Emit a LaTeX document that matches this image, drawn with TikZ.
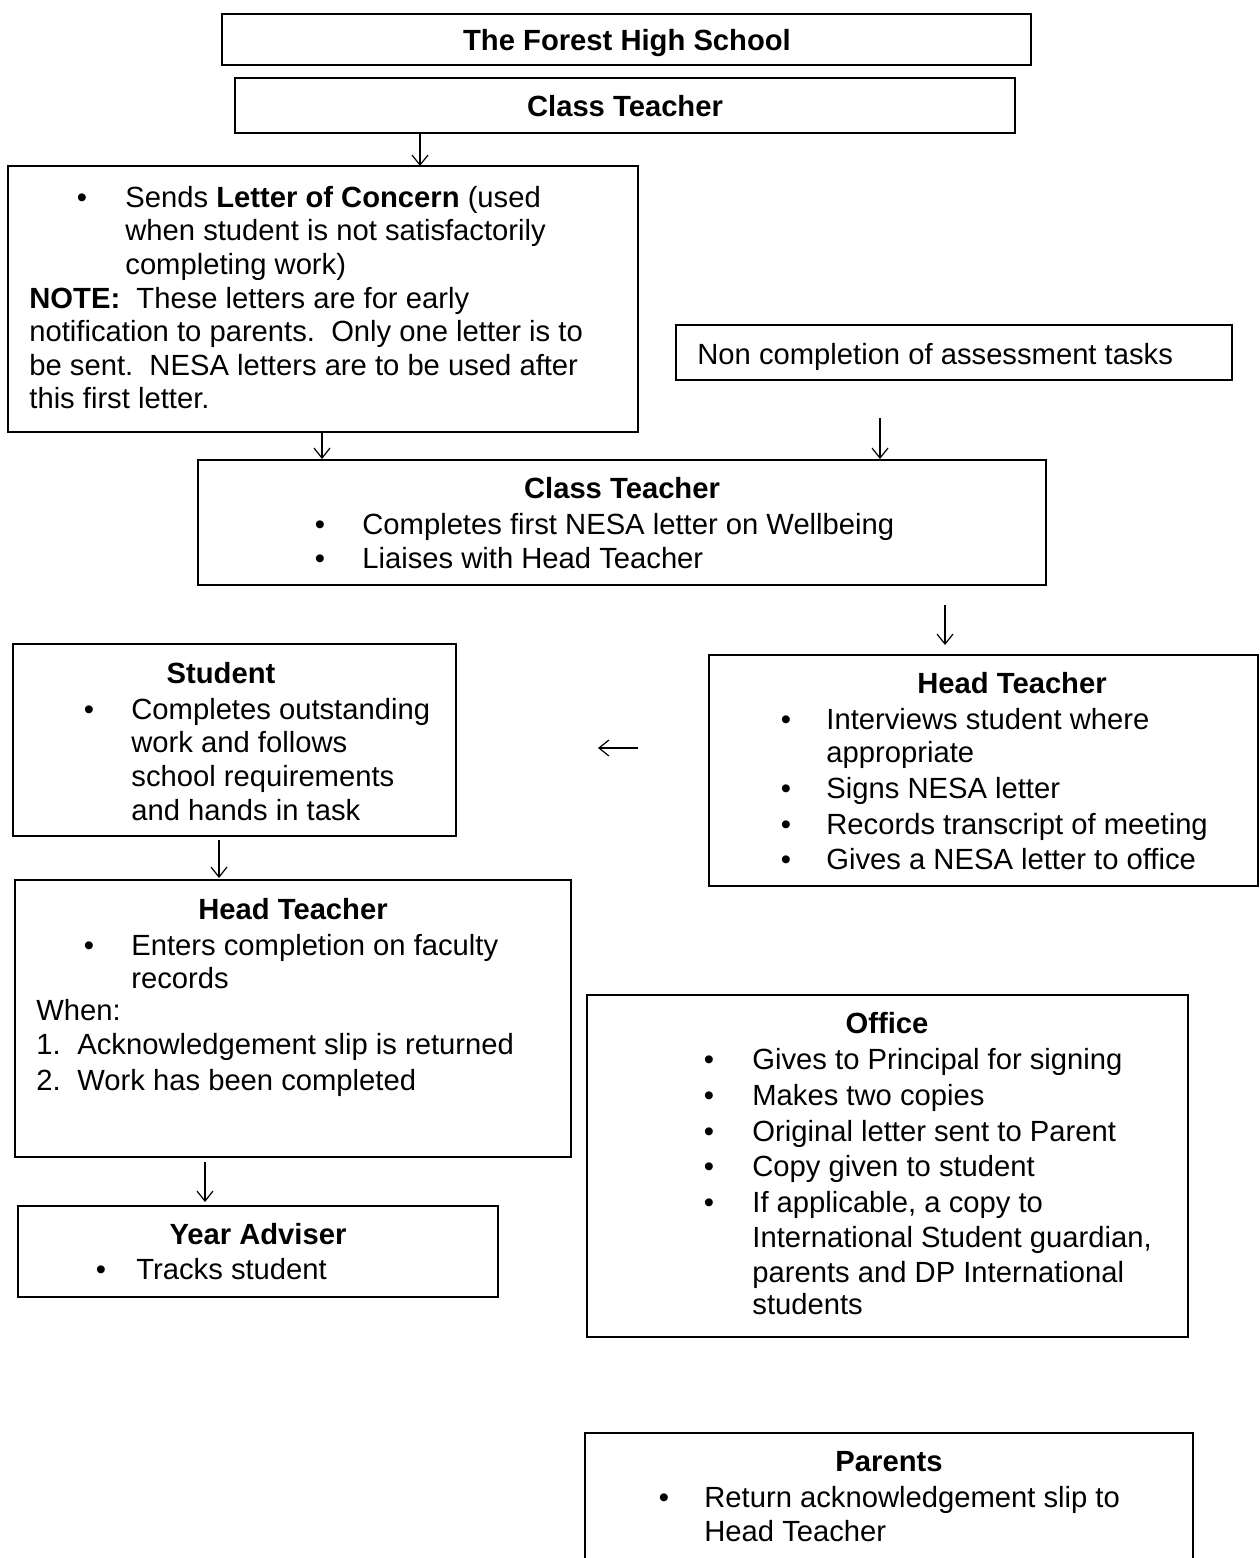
\documentclass[tikz,border=0pt]{standalone}
\usepackage{fontspec}
\setmainfont{Liberation Sans}
\usetikzlibrary{fit,arrows.meta}
\begin{document}
\begin{tikzpicture}[x=0.5pt,y=-0.5pt,
 box/.style={draw,line width=1pt,inner sep=0pt},
 txt/.style={anchor=base west,inner sep=0pt,font=\fontsize{14.6pt}{16.8pt}\selectfont},
 ttl/.style={anchor=base,inner sep=0pt,font=\fontsize{14.6pt}{16.8pt}\selectfont\bfseries},
 bul/.style={anchor=base,inner sep=0pt,font=\fontsize{14.6pt}{16.8pt}\selectfont},
 arr/.style={-{Straight Barb[length=5pt,width=8pt]},line width=0.6pt}]
\useasboundingbox (0,0) rectangle (1259,1558);

% The Forest High School
\node[box,fit={(222,14)(1031,65)}] (forest) {};
\node[ttl] (forestT) at (627,50) {The Forest High School};

% Class Teacher (top)
\node[box,fit={(235,78)(1015,133)}] (class1) {};
\node[ttl] (class1T) at (625,116) {Class Teacher};

% Letter of Concern
\node[box,fit={(8,166)(638,432)}] (letter) {};
\node[bul] (letterB) at (82,207) {•};
\node[txt] (letterL1) at (125,207) {Sends \textbf{Letter of Concern} (used};
\node[txt] (letterL2) at (125,240) {when student is not satisfactorily};
\node[txt] (letterL3) at (125,274) {completing work)};
\node[txt] (letterL4) at (29,308) {\textbf{NOTE:}\ \ These letters are for early};
\node[txt] (letterL5) at (29,341) {notification to parents.\ \ Only one letter is to};
\node[txt] (letterL6) at (29,375) {be sent.\ \ NESA letters are to be used after};
\node[txt] (letterL7) at (29,408) {this first letter.};

% Non completion
\node[box,fit={(676,325)(1232,380)}] (noncomp) {};
\node[txt] (noncompT) at (697,364) {Non completion of assessment tasks};

% Class Teacher (second)
\node[box,fit={(198,460)(1046,585)}] (class2) {};
\node[ttl] (class2T) at (622,498) {Class Teacher};
\node[bul] (class2B1) at (320,534) {•};
\node[txt] (class2L1) at (362,534) {Completes first NESA letter on Wellbeing};
\node[bul] (class2B2) at (320,568) {•};
\node[txt] (class2L2) at (362,568) {Liaises with Head Teacher};

% Student
\node[box,fit={(13,644)(456,836)}] (student) {};
\node[ttl] (studentT) at (221,683) {Student};
\node[bul] (studentB) at (89,719) {•};
\node[txt] (studentL1) at (131,719) {Completes outstanding};
\node[txt] (studentL2) at (131,752) {work and follows};
\node[txt] (studentL3) at (131,786) {school requirements};
\node[txt] (studentL4) at (131,820) {and hands in task};

% Head Teacher (right)
\node[box,fit={(709,655)(1258,886)}] (htr) {};
\node[ttl] (htrT) at (1012,693) {Head Teacher};
\node[bul] (htrB1) at (786,729) {•};
\node[txt] (htrL1) at (826,729) {Interviews student where};
\node[txt] (htrL2) at (826,762) {appropriate};
\node[bul] (htrB2) at (786,798) {•};
\node[txt] (htrL3) at (826,798) {Signs NESA letter};
\node[bul] (htrB3) at (786,834) {•};
\node[txt] (htrL4) at (826,834) {Records transcript of meeting};
\node[bul] (htrB4) at (786,869) {•};
\node[txt] (htrL5) at (826,869) {Gives a NESA letter to office};

% Head Teacher (left)
\node[box,fit={(15,880)(571,1157)}] (htl) {};
\node[ttl] (htlT) at (293,919) {Head Teacher};
\node[bul] (htlB) at (89,955) {•};
\node[txt] (htlL1) at (131,955) {Enters completion on faculty};
\node[txt] (htlL2) at (131,988) {records};
\node[txt] (htlL3) at (36,1020) {When:};
\node[txt] (htlN1) at (36,1054) {1.};
\node[txt] (htlL4) at (77,1054) {Acknowledgement slip is returned};
\node[txt] (htlN2) at (36,1090) {2.};
\node[txt] (htlL5) at (77,1090) {Work has been completed};

% Year Adviser
\node[box,fit={(18,1206)(498,1297)}] (ya) {};
\node[ttl] (yaT) at (258,1244) {Year Adviser};
\node[bul] (yaB) at (101,1279) {•};
\node[txt] (yaL1) at (136,1279) {Tracks student};

% Office
\node[box,fit={(587,995)(1188,1337)}] (office) {};
\node[ttl] (officeT) at (887,1033) {Office};
\node[bul] (officeB1) at (709,1069) {•};
\node[txt] (officeL1) at (752,1069) {Gives to Principal for signing};
\node[bul] (officeB2) at (709,1105) {•};
\node[txt] (officeL2) at (752,1105) {Makes two copies};
\node[bul] (officeB3) at (709,1141) {•};
\node[txt] (officeL3) at (752,1141) {Original letter sent to Parent};
\node[bul] (officeB4) at (709,1176) {•};
\node[txt] (officeL4) at (752,1176) {Copy given to student};
\node[bul] (officeB5) at (709,1212) {•};
\node[txt] (officeL5) at (752,1212) {If applicable, a copy to};
\node[txt] (officeL6) at (752,1247) {International Student guardian,};
\node[txt] (officeL7) at (752,1282) {parents and DP International};
\node[txt] (officeL8) at (752,1314) {students};

% Parents (box cut off at bottom)
\draw[line width=1pt] (585,1558) |- (1193,1433) -- (1193,1558);
\node[ttl] (parentsT) at (889,1471) {Parents};
\node[bul] (parentsB) at (664,1507) {•};
\node[txt] (parentsL1) at (704,1507) {Return acknowledgement slip to};
\node[txt] (parentsL2) at (704,1541) {Head Teacher};

% Arrows
\coordinate (a1s) at (420,133); \coordinate (a1e) at (420,166);
\coordinate (a2s) at (322,432); \coordinate (a2e) at (322,459);
\coordinate (a3s) at (880,418); \coordinate (a3e) at (880,459);
\coordinate (a4s) at (945,605); \coordinate (a4e) at (945,645);
\coordinate (a5s) at (638,748); \coordinate (a5e) at (598,748);
\coordinate (a6s) at (219,840); \coordinate (a6e) at (219,878);
\coordinate (a7s) at (205,1162); \coordinate (a7e) at (205,1202);
\draw[arr] (a1s) -- (a1e);
\draw[arr] (a2s) -- (a2e);
\draw[arr] (a3s) -- (a3e);
\draw[arr] (a4s) -- (a4e);
\draw[arr] (a5s) -- (a5e);
\draw[arr] (a6s) -- (a6e);
\draw[arr] (a7s) -- (a7e);
\end{tikzpicture}
\end{document}
